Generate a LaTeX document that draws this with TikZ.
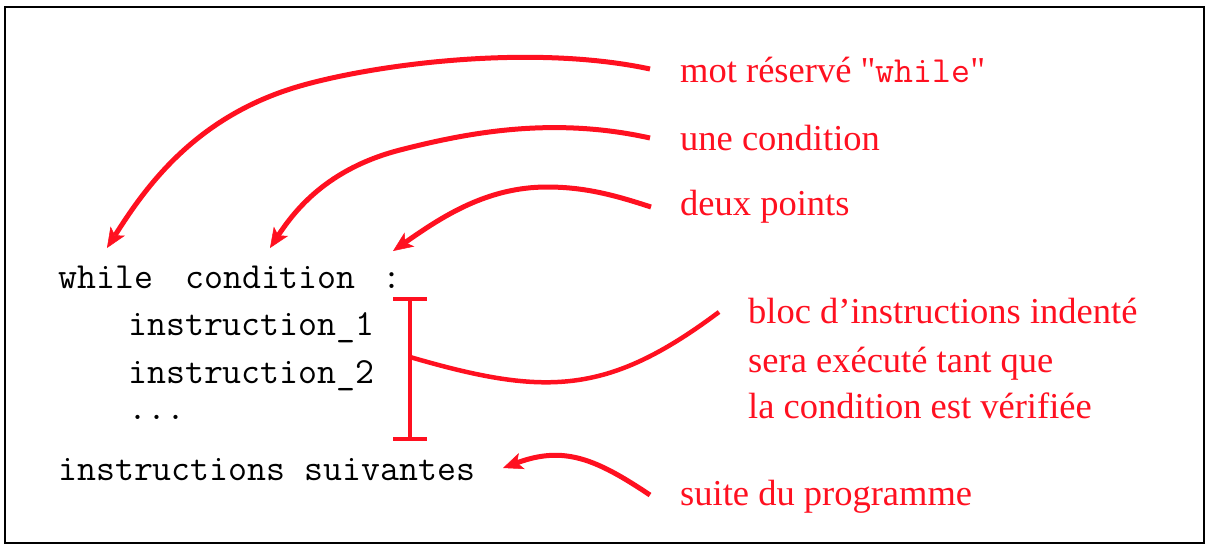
\documentclass[tikz,border=0pt]{standalone}
\usepackage{fontspec}
\setmainfont{Liberation Serif}
\usetikzlibrary{arrows.meta}
\definecolor{lred}{RGB}{255,16,32}
\begin{document}
\begin{tikzpicture}[x=1pt,y=-1pt,
  code/.style={anchor=base west, inner sep=0pt, font=\fontsize{36.8}{40}\selectfont\ttfamily},
  lab/.style={anchor=base west, inner sep=0pt, text=lred, font=\fontsize{36.5}{42}\selectfont},
  arr/.style={draw=lred, line width=5pt, -{Stealth[length=20pt,width=17pt,inset=5pt,line width=0.5pt]}},
  brk/.style={draw=lred, line width=4.5pt},
  frame/.style={draw=black, line width=2pt}]
\useasboundingbox (0,0) rectangle (1218,552);
\draw[frame] (5,7) rectangle (1204,543);

% code
\node[code] (while) at (58,288) {while};
\node[code] (cond) at (185,288) {condition};
\node[code] (colon) at (382.5,288) {:};
\node[code] (i1) at (128,335) {instruction\_1};
\node[code] (i2) at (128,383) {instruction\_2};
\node[code] (dots) at (128,419) {...};
\node[code] (next) at (58,480) {instructions suivantes};

% labels
\node[lab] (l1) at (680,82) {mot réservé \textquotedbl{\ttfamily\fontsize{36.8}{40}\selectfont while}\textquotedbl};
\node[lab] (l2) at (680,150) {une condition};
\node[lab] (l3) at (680,215) {deux points};
\node[lab] (l4) at (748,323) {bloc d'instructions indenté};
\node[lab] (l5) at (748,372) {sera exécuté tant que};
\node[lab] (l6) at (748,418) {la condition est vérifiée};
\node[lab] (l7) at (680,505) {suite du programme};

% arrow ends
\coordinate (s1) at (650,69);
\coordinate (m1) at (300,86);
\coordinate (t1) at (107,248);
\coordinate (s2) at (650,138);
\coordinate (m2) at (400,150);
\coordinate (t2) at (270,248);
\coordinate (s3) at (651,207);
\coordinate (m3) at (547,187);
\coordinate (t3) at (393,251);
\coordinate (s4) at (650,495);
\coordinate (t4) at (503,468);

\draw[arr] (s1) .. controls (532.6,43.8) and (376.9,63.9) .. (m1)
                .. controls (194.3,116.4) and (144.5,188.9) .. (t1);
\draw[arr] (s2) .. controls (552.4,116.3) and (467.8,132.6) .. (m2)
                .. controls (327.3,168.7) and (294.7,210.4) .. (t2);
\draw[arr] (s3) .. controls (614.9,195.2) and (585,187) .. (m3)
                .. controls (487,187) and (442.1,216.6) .. (t3);
\draw[arr] (s4) .. controls (595.9,458.9) and (564,445.4) .. (t4);

% bracket
\coordinate (btop) at (410,299);
\coordinate (bbot) at (410,439);
\coordinate (bmid) at (410,357);
\coordinate (bend) at (719,312);
\draw[brk] (btop) -- (bbot);
\draw[brk] ([xshift=-17pt]btop) -- ([xshift=17pt]btop);
\draw[brk] ([xshift=-17pt]bbot) -- ([xshift=17pt]bbot);
\draw[brk] (bmid) .. controls (544.4,396.2) and (607,396) .. (bend);
\end{tikzpicture}
\end{document}
